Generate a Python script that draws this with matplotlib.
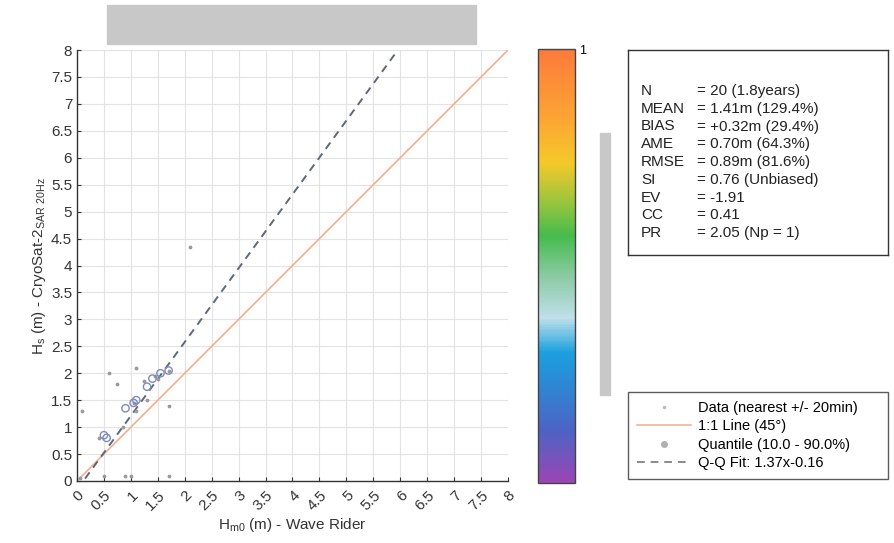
import matplotlib
matplotlib.use("Agg")
import matplotlib.pyplot as plt
import numpy as np
from matplotlib.colors import LinearSegmentedColormap, Normalize
from matplotlib.colorbar import ColorbarBase
from matplotlib.patches import Rectangle
from matplotlib.lines import Line2D

plt.rcParams['font.family'] = ['Liberation Sans', 'DejaVu Sans']
plt.rcParams['mathtext.fontset'] = 'custom'
plt.rcParams['mathtext.rm'] = 'Liberation Sans'

# data points (buoy Hm0 vs CryoSat-2 Hs)
data_x = [0.05, 0.1, 0.4, 0.5, 0.6, 0.75, 0.85, 0.9, 1.0, 1.05, 1.1, 1.1, 1.25, 1.3, 1.45, 1.5, 1.7, 1.7, 1.7, 2.1]
data_y = [0.05, 1.3, 0.8, 0.1, 2.0, 1.8, 1.0, 0.1, 0.1, 1.45, 1.3, 2.1, 1.85, 1.5, 1.95, 1.9, 2.05, 1.4, 0.1, 4.35]

# quantiles 10 - 90 %
q_x = [0.5, 0.55, 0.9, 1.05, 1.1, 1.3, 1.4, 1.55, 1.7]
q_y = [0.85, 0.8, 1.35, 1.45, 1.5, 1.75, 1.9, 2.0, 2.05]

qq_slope = 1.37
qq_offset = -0.16

stat_names = ["N", "MEAN", "BIAS", "AME", "RMSE", "SI", "EV", "CC", "PR"]
stat_values = ["= 20 (1.8years)", "= 1.41m (129.4%)", "= +0.32m (29.4%)", "= 0.70m (64.3%)",
               "= 0.89m (81.6%)", "= 0.76 (Unbiased)", "= -1.91", "= 0.41", "= 2.05 (Np = 1)"]

ticks = np.arange(0, 8.01, 0.5)
tick_labels = ["0", "0.5", "1", "1.5", "2", "2.5", "3", "3.5", "4", "4.5", "5", "5.5", "6", "6.5", "7", "7.5", "8"]

W, H = 895, 543
fig = plt.figure(figsize=(W / 100, H / 100), dpi=100)

def fbox(x0, y0, x1, y1):
    # pixel box (top-left origin) -> figure fraction
    return [x0 / W, 1 - y1 / H, (x1 - x0) / W, (y1 - y0) / H]

ax = fig.add_axes(fbox(77, 50, 508, 481))
ax.set_xlim(0, 8)
ax.set_ylim(0, 8)
ax.set_xticks(ticks)
ax.set_yticks(ticks)
ax.set_xticklabels(tick_labels, rotation=45, ha='right', va='top', rotation_mode='anchor')
ax.set_yticklabels(tick_labels)
ax.tick_params(direction='in', length=3, labelsize=11, colors='#333333')
ax.tick_params(axis='x', pad=5)
ax.grid(True, color='#e3e3e3', linewidth=0.8)
ax.set_axisbelow(True)
for s in ['top', 'right']:
    ax.spines[s].set_visible(False)
for s in ['left', 'bottom']:
    ax.spines[s].set_linewidth(1.0)
    ax.spines[s].set_color('#333333')

ax.set_xlabel(r"H$_{\mathrm{m0}}$ (m) - Wave Rider", fontsize=11, labelpad=2, color='#333333')
ax.set_ylabel(r"H$_{\mathrm{s}}$ (m) - CryoSat-2$_{\mathrm{SAR\ 20Hz}}$", fontsize=11, labelpad=2, color='#333333')

ax.scatter(data_x, data_y, s=3, color='#9a9a9a', zorder=3)
line11, = ax.plot([0, 8], [0, 8], color='#f5a98a', linewidth=1.1)
ax.scatter(q_x, q_y, s=28, facecolors='none', edgecolors='#8089bb', linewidths=1.0, zorder=4)
x_fit = np.array([0, (8 - qq_offset) / qq_slope])
ax.plot(x_fit, qq_slope * x_fit + qq_offset, color='#5f6878', linestyle=(0, (4, 3)),
        linewidth=1.4, zorder=2)

# redacted title and colorbar label bars
fig.patches.append(Rectangle((107 / W, 1 - 44 / H), 369 / W, 39 / H, transform=fig.transFigure,
                             color='#c8c8c8', zorder=0))
fig.patches.append(Rectangle((600 / W, 1 - 395 / H), 10 / W, 262 / H, transform=fig.transFigure,
                             color='#c8c8c8', zorder=0))

# colorbar
cmap = LinearSegmentedColormap.from_list("dens", [
    (0.0, '#9b45b5'), (0.12, '#4d63c4'), (0.22, '#2f86d3'), (0.30, '#1aa0de'),
    (0.38, '#bfe0ea'), (0.47, '#8fcba8'), (0.57, '#45bc4c'), (0.66, '#a7c63a'),
    (0.74, '#f5c82a'), (0.84, '#fca534'), (1.0, '#fd7a3a')])
cax = fig.add_axes(fbox(538, 49, 575, 483))
cb = ColorbarBase(cax, cmap=cmap, norm=Normalize(0, 1), orientation='vertical')
cb.set_ticks([1])
cb.set_ticklabels(["1"])
cax.tick_params(length=0, labelsize=9, pad=3)
cb.outline.set_linewidth(1.0)
cb.outline.set_edgecolor('#444444')

# statistics box
sax = fig.add_axes(fbox(628, 50, 888, 255))
sax.set_xticks([])
sax.set_yticks([])
for s in sax.spines.values():
    s.set_linewidth(1.0)
    s.set_color('#333333')
for i, (n, v) in enumerate(zip(stat_names, stat_values)):
    yy = 1 - (91 + i * 17.75 - 50) / 205
    sax.text((641 - 628) / 260, yy, n, transform=sax.transAxes, fontsize=11, va='center', color='#222222')
    sax.text((697 - 628) / 260, yy, v, transform=sax.transAxes, fontsize=11, va='center', color='#222222')

# legend
h_data_leg = Line2D([], [], linestyle='none', marker='o', markersize=1.5, color='#bbbbbb')
h_q_leg = Line2D([], [], linestyle='none', marker='o', markersize=4, color='#b0b0b0')
qq_leg = Line2D([], [], color='#8a8a8a', linestyle=(0, (4, 3)), linewidth=1.4)
leg = fig.legend([h_data_leg, line11, h_q_leg, qq_leg],
                 ["Data (nearest +/- 20min)", u"1:1 Line (45\u00b0)", "Quantile (10.0 - 90.0%)", "Q-Q Fit: 1.37x-0.16"],
                 loc='upper left', bbox_to_anchor=(628 / W, 1 - 480 / H, 260 / W, 88 / H), mode='expand',
                 fontsize=10.5, frameon=True, fancybox=False, handlelength=3.7, handletextpad=0.45,
                 labelspacing=0.3, borderpad=0.62, borderaxespad=0)
leg.get_frame().set_edgecolor('#333333')
leg.get_frame().set_linewidth(1.0)

fig.savefig("out.png", dpi=100)
